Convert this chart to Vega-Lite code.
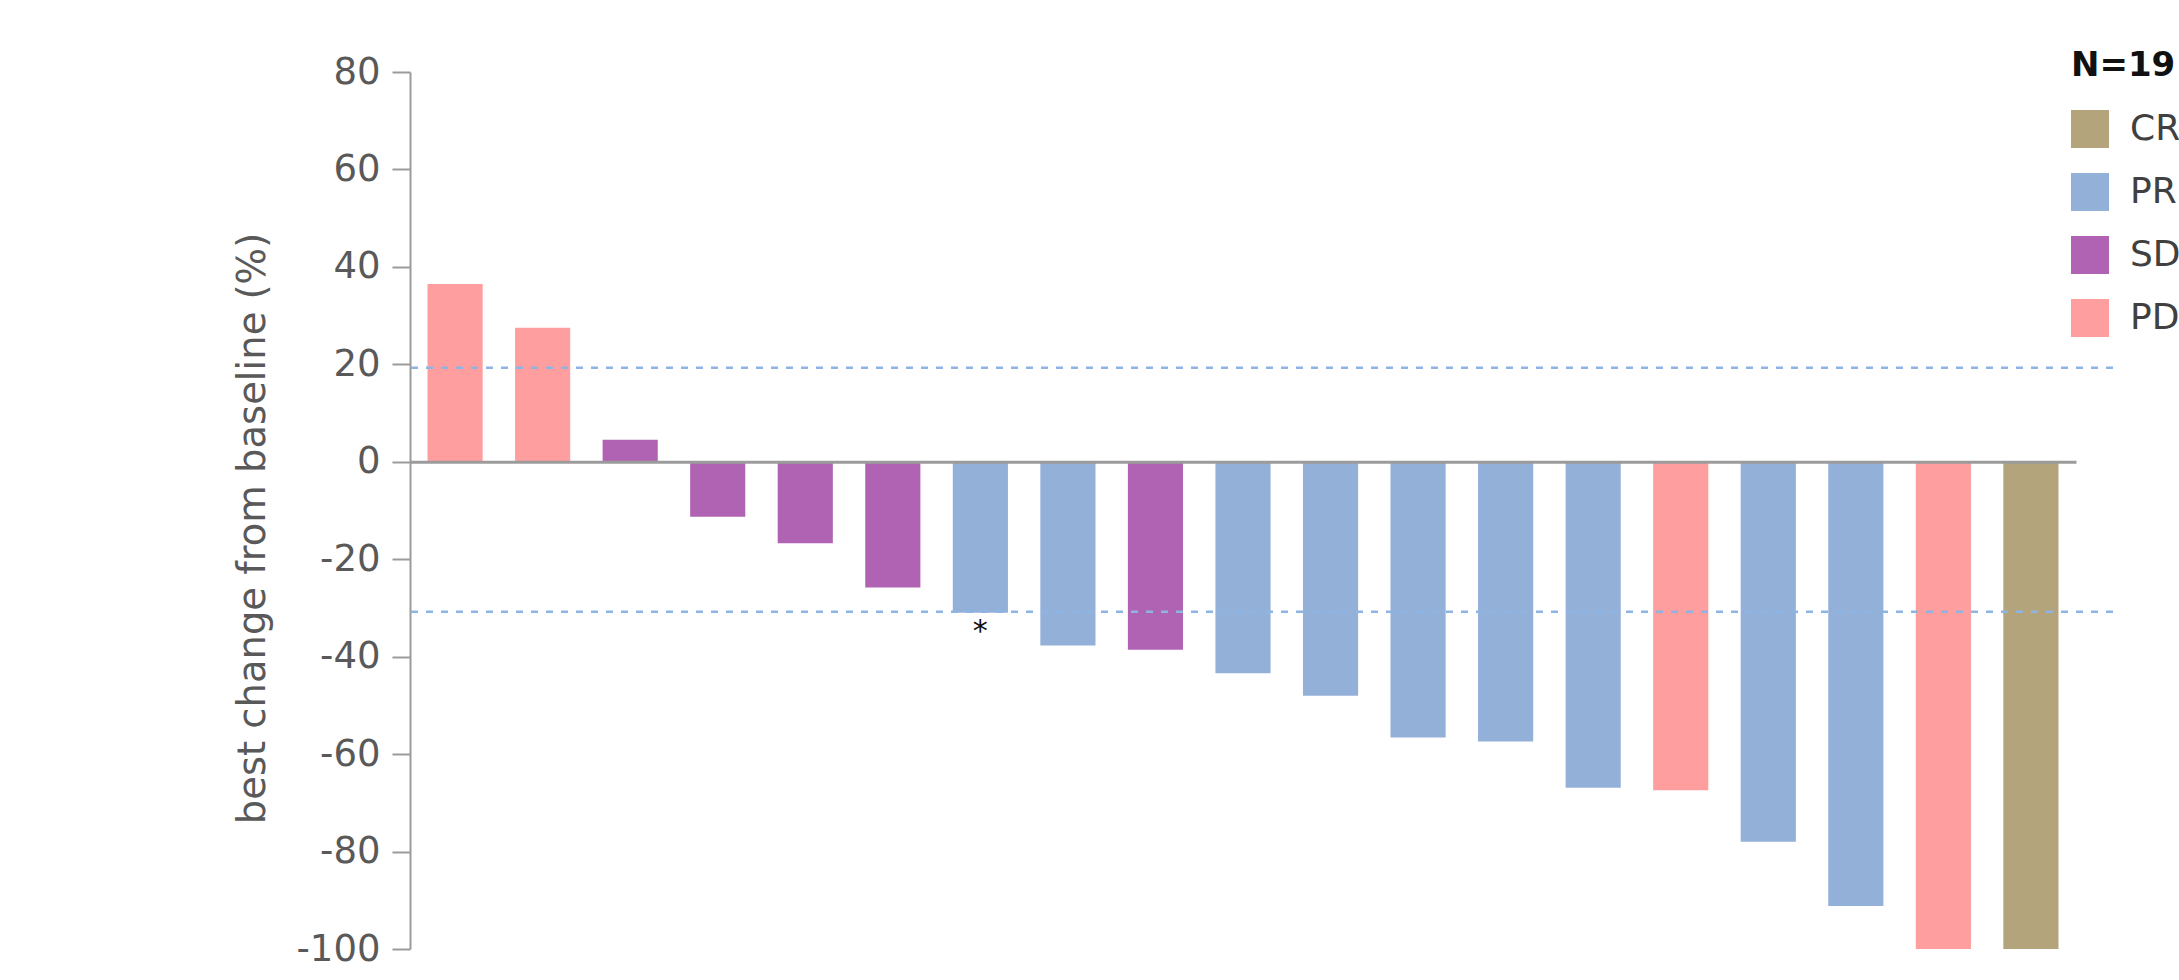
{
  "$schema": "https://vega.github.io/schema/vega-lite/v6.json",
  "autosize": {"type": "none"},
  "padding": {"left": 410, "top": 72, "right": 66, "bottom": 31},
  "width": 1703,
  "height": 877,
  "background": "#ffffff",
  "config": {
    "view": {"stroke": null},
    "font": "DejaVu Sans"
  },
  "datasets": {
    "patients": [
      {"patient": 1, "change": 36.5, "response": "PD"},
      {"patient": 2, "change": 27.5, "response": "PD"},
      {"patient": 3, "change": 4.5, "response": "SD"},
      {"patient": 4, "change": -11.3, "response": "SD"},
      {"patient": 5, "change": -16.7, "response": "SD"},
      {"patient": 6, "change": -25.8, "response": "SD"},
      {"patient": 7, "change": -31.0, "response": "PR", "note": "*"},
      {"patient": 8, "change": -37.7, "response": "PR"},
      {"patient": 9, "change": -38.6, "response": "SD"},
      {"patient": 10, "change": -43.4, "response": "PR"},
      {"patient": 11, "change": -48.0, "response": "PR"},
      {"patient": 12, "change": -56.6, "response": "PR"},
      {"patient": 13, "change": -57.4, "response": "PR"},
      {"patient": 14, "change": -66.9, "response": "PR"},
      {"patient": 15, "change": -67.4, "response": "PD"},
      {"patient": 16, "change": -78.0, "response": "PR"},
      {"patient": 17, "change": -91.2, "response": "PR"},
      {"patient": 18, "change": -100, "response": "PD"},
      {"patient": 19, "change": -100, "response": "CR"}
    ],
    "cutoffs": [
      {"cutoff": 19.3, "criterion": "progression"},
      {"cutoff": -30.8, "criterion": "partial response"}
    ]
  },
  "layer": [
    {
      "data": {"name": "patients"},
      "mark": {"type": "bar"},
      "encoding": {
        "x": {
          "field": "patient",
          "type": "ordinal",
          "sort": null,
          "scale": {"range": [0, 1666], "paddingInner": 0.37, "paddingOuter": 0.2},
          "axis": {
            "orient": "bottom",
            "offset": {"expr": "scale('y', 0) - height"},
            "labels": false,
            "ticks": false,
            "title": null,
            "grid": false,
            "domain": true,
            "domainColor": "#9b9b9b",
            "domainWidth": 3,
            "zindex": 1
          }
        },
        "y": {
          "field": "change",
          "type": "quantitative",
          "scale": {"domain": [-100, 80], "nice": false},
          "axis": {
            "values": [-100, -80, -60, -40, -20, 0, 20, 40, 60, 80],
            "labelExpr": "toString(datum.value)",
            "grid": false,
            "domainColor": "#9b9b9b",
            "domainWidth": 2,
            "tickColor": "#9b9b9b",
            "tickWidth": 2,
            "tickSize": 18,
            "labelFontSize": 37,
            "labelColor": "#595959",
            "labelPadding": 12,
            "title": "best change from baseline (%)",
            "titleFontSize": 38.5,
            "titleFontWeight": "normal",
            "titleColor": "#595959",
            "titlePadding": 24,
            "titleAnchor": "middle",
            "titleAlign": "center",
            "titleY": 456
          }
        },
        "color": {
          "field": "response",
          "type": "nominal",
          "scale": {
            "domain": ["CR", "PR", "SD", "PD"],
            "range": ["#B4A47C", "#93B0D8", "#B063B3", "#FF9E9E"]
          },
          "legend": {
            "orient": "none",
            "legendX": 1661,
            "legendY": -23,
            "title": "N=19",
            "titleFontSize": 34,
            "titleFontWeight": "bold",
            "titleColor": "#111111",
            "titlePadding": 27,
            "symbolType": "square",
            "symbolSize": 1444,
            "symbolStrokeWidth": 0,
            "symbolOpacity": 1,
            "labelFontSize": 36,
            "labelColor": "#404040",
            "labelOffset": 21,
            "rowPadding": 25
          }
        }
      }
    },
    {
      "data": {"name": "cutoffs"},
      "mark": {"type": "rule", "strokeDash": [7, 8], "strokeWidth": 2.5, "color": "#8DB4E2"},
      "encoding": {
        "y": {"field": "cutoff", "type": "quantitative"}
      }
    },
    {
      "data": {"name": "patients"},
      "transform": [{"filter": "datum.note"}],
      "mark": {"type": "text", "baseline": "top", "dy": 4, "fontSize": 30, "color": "#111111"},
      "encoding": {
        "x": {"field": "patient", "type": "ordinal", "sort": null},
        "y": {"field": "change", "type": "quantitative"},
        "text": {"field": "note"}
      }
    }
  ]
}
